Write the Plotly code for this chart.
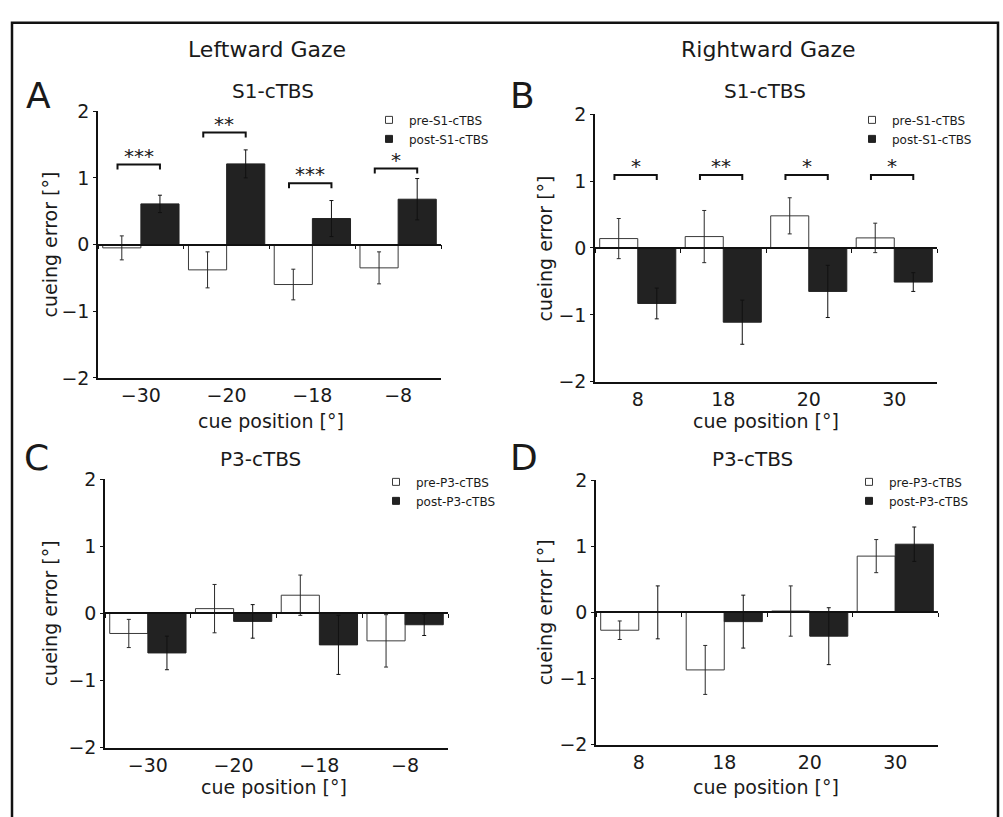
import plotly.graph_objects as go

# ---------------- data ----------------
left_positions = ["−30", "−20", "−18", "−8"]
right_positions = ["8", "18", "20", "30"]

a_pre = [-0.05, -0.38, -0.60, -0.35]
a_pre_err = [0.18, 0.27, 0.23, 0.24]
a_post = [0.61, 1.21, 0.39, 0.68]
a_post_err = [0.13, 0.21, 0.27, 0.31]
a_sig = ["***", "**", "***", "*"]
a_sig_y = [1.20, 1.68, 0.92, 1.14]

b_pre = [0.14, 0.17, 0.48, 0.15]
b_pre_err = [0.30, 0.39, 0.27, 0.22]
b_post = [-0.83, -1.11, -0.65, -0.51]
b_post_err = [0.23, 0.33, 0.39, 0.14]
b_sig = ["*", "**", "*", "*"]
b_sig_y = [1.09, 1.09, 1.09, 1.09]

c_pre = [-0.30, 0.07, 0.27, -0.41]
c_pre_err = [0.21, 0.36, 0.30, 0.39]
c_post = [-0.59, -0.12, -0.47, -0.17]
c_post_err = [0.25, 0.25, 0.44, 0.16]

d_pre = [-0.27, -0.87, 0.02, 0.85]
d_pre_err = [0.14, 0.37, 0.38, 0.25]
d_post = [0.00, -0.14, -0.36, 1.03]
d_post_err = [0.40, 0.40, 0.43, 0.26]

y_ticks = [-2, -1, 0, 1, 2]

# ---------------- layout helpers ----------------
W, H = 1003, 817
FONT = "DejaVu Sans"
TXT = "#1a1a1a"


def px(x):
    return x / W


def py(y):
    return 1 - y / H


def label(x, y, text, size, angle=0):
    return dict(x=px(x), y=py(y), xref="paper", yref="paper", text=text, showarrow=False,
                xanchor="center", yanchor="middle", textangle=angle,
                font=dict(family=FONT, size=size, color=TXT))


panels = [
    dict(cats=left_positions, pre=a_pre, pre_err=a_pre_err, post=a_post, post_err=a_post_err,
         sig=a_sig, sig_y=a_sig_y, names=("pre-S1-cTBS", "post-S1-cTBS"),
         xd=(98, 441), yd=(103, 377), title="S1-cTBS", title_xy=(273, 82), letter="A", letter_xy=(38, 87),
         xt_xy=(271, 421), yt_xy=(50, 240), leg_xy=(369, 97)),
    dict(cats=right_positions, pre=b_pre, pre_err=b_pre_err, post=b_post, post_err=b_post_err,
         sig=b_sig, sig_y=b_sig_y, names=("pre-S1-cTBS", "post-S1-cTBS"),
         xd=(595, 937), yd=(106, 381), title="S1-cTBS", title_xy=(765, 82), letter="B", letter_xy=(522, 87),
         xt_xy=(766, 421), yt_xy=(545, 244), leg_xy=(852, 97)),
    dict(cats=left_positions, pre=c_pre, pre_err=c_pre_err, post=c_post, post_err=c_post_err,
         sig=None, sig_y=None, names=("pre-P3-cTBS", "post-P3-cTBS"),
         xd=(105, 448), yd=(481, 757), title="P3-cTBS", title_xy=(260, 460), letter="C", letter_xy=(36, 459),
         xt_xy=(274, 797), yt_xy=(50, 619), leg_xy=(376, 469)),
    dict(cats=right_positions, pre=d_pre, pre_err=d_pre_err, post=d_post, post_err=d_post_err,
         sig=None, sig_y=None, names=("pre-P3-cTBS", "post-P3-cTBS"),
         xd=(596, 938), yd=(482, 754), title="P3-cTBS", title_xy=(752, 460), letter="D", letter_xy=(524, 459),
         xt_xy=(766, 797), yt_xy=(545, 618), leg_xy=(849, 469)),
]

fig = go.Figure()
annotations = []
layout_axes = {}
BARGAP = 0.11
half = (1 - BARGAP) / 4  # offset of each bar centre from category centre

for k, p in enumerate(panels, start=1):
    xa = "x" if k == 1 else f"x{k}"
    ya = "y" if k == 1 else f"y{k}"
    xa_over = f"x{k + 4}"
    leg = "legend" if k == 1 else f"legend{k}"
    xs = list(range(len(p["cats"])))

    fig.add_trace(go.Bar(
        x=xs, y=p["pre"], name=p["names"][0], xaxis=xa, yaxis=ya, showlegend=False,
        marker=dict(color="white", line=dict(color="#3a3a3a", width=1)),
        error_y=dict(type="data", array=p["pre_err"], color="#2a2a2a", thickness=1, width=2),
    ))
    fig.add_trace(go.Bar(
        x=xs, y=p["post"], name=p["names"][1], xaxis=xa, yaxis=ya, showlegend=False,
        marker=dict(color="#222222", line=dict(color="#222222", width=1)),
        error_y=dict(type="data", array=p["post_err"], color="#111111", thickness=1, width=2),
    ))
    # legend keys (small squares like the original)
    fig.add_trace(go.Scatter(
        x=[None], y=[None], xaxis=xa, yaxis=ya, mode="markers", name=p["names"][0], legend=leg,
        marker=dict(symbol="square", size=7, color="white", line=dict(color="#3a3a3a", width=1)),
        hoverinfo="skip"))
    fig.add_trace(go.Scatter(
        x=[None], y=[None], xaxis=xa, yaxis=ya, mode="markers", name=p["names"][1], legend=leg,
        marker=dict(symbol="square", size=7, color="#222222", line=dict(color="#222222", width=1)),
        hoverinfo="skip"))

    # significance brackets
    if p["sig"]:
        bx, by = [], []
        drop = 0.075
        for i, h in enumerate(p["sig_y"]):
            x0 = i - half - 0.05
            x1 = i + half
            bx += [x0, x0, x1, x1, None]
            by += [h - drop, h, h, h - drop, None]
            annotations.append(dict(
                x=(x0 + x1) / 2, y=h, xref=xa, yref=ya, text=p["sig"][i], showarrow=False,
                xanchor="center", yanchor="bottom", yshift=-5,
                font=dict(family=FONT, size=20, color=TXT)))
        fig.add_trace(go.Scatter(x=bx, y=by, mode="lines", xaxis=xa, yaxis=ya,
                                 line=dict(color="#111111", width=2), showlegend=False, hoverinfo="skip"))

    # dummy trace to carry the zero-line axis
    fig.add_trace(go.Scatter(x=[0], y=[None], xaxis=xa_over, yaxis=ya, showlegend=False,
                             hoverinfo="skip", mode="lines"))

    xdom = [px(p["xd"][0]), px(p["xd"][1])]
    ydom = [py(p["yd"][1]), py(p["yd"][0])]
    n = len(p["cats"])
    layout_axes["xaxis" if k == 1 else f"xaxis{k}"] = dict(
        domain=xdom, anchor=ya, range=[-0.5, n - 0.5], tickvals=xs, ticktext=p["cats"],
        ticks="", showline=True, linecolor="#111111", linewidth=1.5, showgrid=False, zeroline=False,
        tickfont=dict(family=FONT, size=19, color=TXT), fixedrange=True)
    layout_axes[f"xaxis{k + 4}"] = dict(
        overlaying=xa, anchor="free", position=(ydom[0] + ydom[1]) / 2, range=[-0.5, n - 0.5],
        tickvals=[i - 0.5 for i in range(n + 1)], ticks="outside", ticklen=4, tickcolor="#111111",
        showticklabels=False, showline=True, linecolor="#111111", linewidth=1.5, showgrid=False,
        zeroline=False, fixedrange=True)
    layout_axes["yaxis" if k == 1 else f"yaxis{k}"] = dict(
        domain=ydom, anchor=xa, range=[-2, 2], tickvals=y_ticks, ticks="outside", ticklen=3,
        tickcolor="#111111", showline=True, linecolor="#111111", linewidth=1.5, showgrid=False,
        zeroline=False, tickfont=dict(family=FONT, size=19, color=TXT), fixedrange=True)
    layout_axes[leg] = dict(
        x=px(p["leg_xy"][0]), y=py(p["leg_xy"][1]), xanchor="left", yanchor="top",
        bgcolor="rgba(0,0,0,0)", font=dict(family=FONT, size=12, color=TXT),
        itemwidth=30, tracegroupgap=0, traceorder="normal")

    annotations += [
        label(*p["title_xy"], p["title"], 20),
        label(*p["letter_xy"], p["letter"], 36),
        label(*p["xt_xy"], "cue position [°]", 19),
        label(*p["yt_xy"], "cueing error [°]", 19, angle=-90),
    ]

annotations += [
    label(267, 40, "Leftward Gaze", 22),
    label(768, 40, "Rightward Gaze", 22),
]

fig.update_layout(
    width=W, height=H, margin=dict(l=0, r=0, t=0, b=0),
    paper_bgcolor="white", plot_bgcolor="rgba(0,0,0,0)",
    barmode="group", bargap=BARGAP, bargroupgap=0,
    annotations=annotations,
    shapes=[dict(type="rect", xref="paper", yref="paper", x0=px(12), x1=px(998), y0=-0.05, y1=py(12),
                 line=dict(color="#111111", width=2.5), fillcolor="rgba(0,0,0,0)", layer="above")],
    **layout_axes,
)

# place the figure flush with the page corner (no default body margin) and hide the mode bar
fig.write_html("out.html", config={"displayModeBar": False},
               post_script="document.body.style.margin='0';document.body.style.overflow='hidden';")
